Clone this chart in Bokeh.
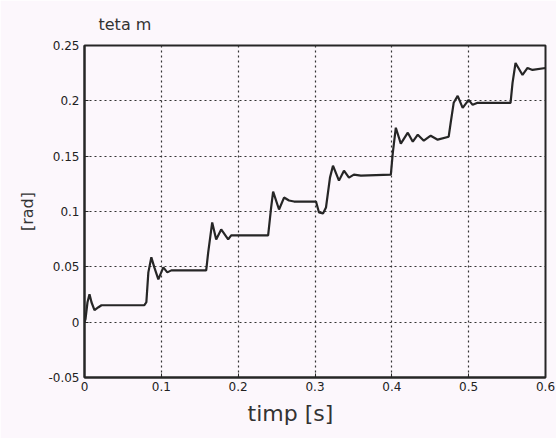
from bokeh.plotting import figure
from bokeh.models import FixedTicker, Title
from bokeh.embed import file_html
from bokeh.resources import INLINE

# time [s] and teta m [rad]
t = [0.0, 0.0013, 0.0039, 0.0065, 0.0091, 0.013, 0.0182, 0.0221, 0.0779, 0.0805,
     0.0831, 0.087, 0.0909, 0.0961, 0.1026, 0.1078, 0.113, 0.1584, 0.161, 0.1662,
     0.1714, 0.1779, 0.187, 0.1909, 0.239, 0.2429, 0.2455, 0.2532, 0.2597, 0.2662,
     0.2727, 0.3013, 0.3052, 0.3104, 0.3143, 0.3195, 0.3234, 0.3312, 0.3377, 0.3442,
     0.3506, 0.3597, 0.3987, 0.4013, 0.4052, 0.4117, 0.4208, 0.4273, 0.4338, 0.4416,
     0.4506, 0.4597, 0.474, 0.4766, 0.4805, 0.4857, 0.4922, 0.5, 0.5052, 0.5117,
     0.5545, 0.5571, 0.561, 0.5701, 0.5766, 0.5831, 0.6]
teta = [0.0, 0.0027, 0.018, 0.0252, 0.018, 0.0108, 0.0135, 0.0153, 0.0153, 0.018,
        0.045, 0.0586, 0.0495, 0.0387, 0.0495, 0.045, 0.0468, 0.0468, 0.0631, 0.0901,
        0.0748, 0.0838, 0.0748, 0.0784, 0.0784, 0.1036, 0.118, 0.1018, 0.1126, 0.1099,
        0.109, 0.109, 0.0991, 0.0982, 0.1036, 0.1306, 0.1414, 0.1279, 0.1369, 0.1306,
        0.1333, 0.1324, 0.1333, 0.1532, 0.1757, 0.1613, 0.1712, 0.1631, 0.1694, 0.164,
        0.1685, 0.1649, 0.1676, 0.1802, 0.1982, 0.2045, 0.1937, 0.2009, 0.1964, 0.1982,
        0.1982, 0.2162, 0.2342, 0.2234, 0.2297, 0.2279, 0.2297]

x_ticks = [0, 0.1, 0.2, 0.3, 0.4, 0.5, 0.6]
x_labels = ["0", "0.1", "0.2", "0.3", "0.4", "0.5", "0.6"]
y_ticks = [-0.05, 0, 0.05, 0.1, 0.15, 0.2, 0.25]
y_labels = ["-0.05", "0", "0.05", "0.1", "0.15", "0.2", "0.25"]

BG = "#fcf7fc"
INK = "#262626"
FONT = "DejaVu Sans"

p = figure(width=556, height=438, x_range=(0, 0.6), y_range=(-0.05, 0.25),
           output_backend="svg", toolbar_location=None,
           min_border_left=84, min_border_right=11, min_border_top=45,
           min_border_bottom=61, background_fill_color=BG, border_fill_color=BG)

p.title.text = "teta m"
p.title.text_font = FONT
p.title.text_font_size = "16px"
p.title.text_font_style = "normal"
p.title.text_color = "#333333"
p.title.align = "left"
p.title.offset = 14
p.title.standoff = 23

p.line(t, teta, line_color=INK, line_width=2.2)

p.xaxis.ticker = FixedTicker(ticks=x_ticks)
p.yaxis.ticker = FixedTicker(ticks=y_ticks)
p.xaxis.major_label_overrides = {float(k): v for k, v in zip(x_ticks, x_labels)}
p.xaxis.major_label_overrides[0] = "0"
p.yaxis.major_label_overrides = {float(k): v for k, v in zip(y_ticks, y_labels)}
p.yaxis.major_label_overrides[0] = "0"

for ax in (p.xaxis, p.yaxis):
    ax.axis_line_color = INK
    ax.axis_line_width = 2
    ax.major_tick_line_color = INK
    ax.major_tick_in = 4
    ax.major_tick_out = 0
    ax.minor_tick_line_color = None
    ax.major_label_text_font = FONT
    ax.major_label_text_font_size = "12px"
    ax.major_label_text_font_style = "normal"
    ax.major_label_text_color = "#222222"

p.xaxis.major_label_standoff = 4
p.yaxis.major_label_standoff = 5

p.yaxis.axis_label = "[rad]"
p.yaxis.axis_label_text_font = FONT
p.yaxis.axis_label_text_font_size = "16px"
p.yaxis.axis_label_text_font_style = "normal"
p.yaxis.axis_label_text_color = "#333333"
p.yaxis.axis_label_standoff = 8

p.add_layout(Title(text="timp [s]", align="left", offset=163,
                   text_font=FONT, text_font_size="22px",
                   text_font_style="normal", text_color="#333333"), "below")

p.grid.grid_line_color = "#333333"
p.grid.grid_line_dash = "2 3"
p.grid.grid_line_width = 1.2
p.outline_line_color = INK
p.outline_line_width = 2

open("out.html", "w").write(file_html(p, INLINE))
